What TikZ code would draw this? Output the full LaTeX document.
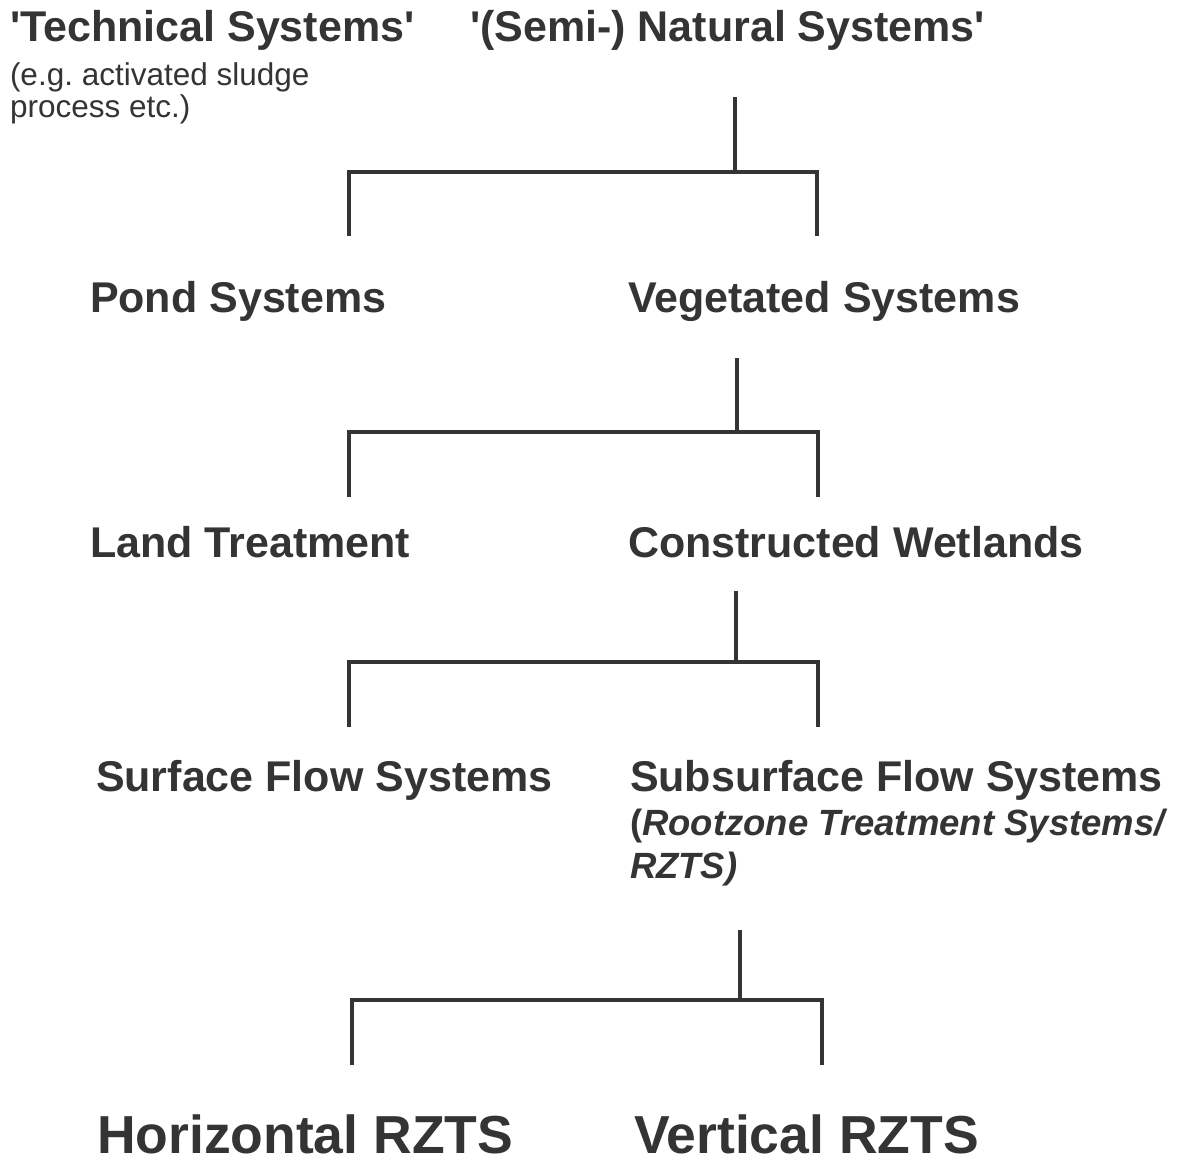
\documentclass[tikz,border=0pt]{standalone}
\usepackage{fontspec}
\setmainfont{Liberation Sans}[Ligatures=TeXOff]
\definecolor{ink}{RGB}{52,52,52}
\frenchspacing
\tikzset{
  lbl/.style={anchor=base west, inner sep=0pt, outer sep=0pt, text=ink, font=\bfseries\fontsize{43}{45}\selectfont},
  sub/.style={anchor=base west, inner sep=0pt, outer sep=0pt, text=ink, font=\fontsize{31.5}{33}\selectfont},
  ital/.style={anchor=base west, inner sep=0pt, outer sep=0pt, text=ink, font=\bfseries\fontsize{36.5}{38}\selectfont},
  big/.style={anchor=base west, inner sep=0pt, outer sep=0pt, text=ink, font=\bfseries\fontsize{53.5}{55}\selectfont},
  tree/.style={draw=ink, line width=4pt, line cap=butt, line join=miter}
}
\begin{document}
\begin{tikzpicture}[x=1pt,y=-1pt]
\useasboundingbox[fill=white] (0,0) rectangle (1193,1160);
% texts
\node[lbl] (tech) at (10,41) {'Technical Systems'};
\node[sub] (tech2) at (10,85) {(e.g. activated sludge};
\node[sub] (tech3) at (10,117) {process etc.)};
\node[lbl] (nat) at (470,41) {'(Semi-) Natural Systems'};
\node[lbl] (pond) at (90,312) {Pond Systems};
\node[lbl] (veg) at (628,312) {Vegetated Systems};
\node[lbl] (land) at (90,557) {Land Treatment};
\node[lbl] (cw) at (628,557) {Constructed Wetlands};
\node[lbl] (sfs) at (96,791) {Surface Flow Systems};
\node[lbl] (ssfs) at (630,791) {Subsurface Flow Systems};
\node[ital] (rzts1) at (630,835) {(\textit{Rootzone Treatment Systems/}};
\node[ital] (rzts2) at (630,878) {\textit{RZTS)}};
\node[big] (hor) at (97,1153) {Horizontal RZTS};
\node[big] (ver) at (634,1153) {Vertical RZTS};
% tree coordinates
\coordinate (t1) at (735,97);   \coordinate (j1) at (735,172);
\coordinate (l1) at (349,236);  \coordinate (r1) at (817,236);
\coordinate (t2) at (737,358);  \coordinate (j2) at (737,432);
\coordinate (l2) at (349,497);  \coordinate (r2) at (818,497);
\coordinate (t3) at (736,591);  \coordinate (j3) at (736,662);
\coordinate (l3) at (349,727);  \coordinate (r3) at (818,727);
\coordinate (t4) at (740,930);  \coordinate (j4) at (740,1000);
\coordinate (l4) at (352,1065); \coordinate (r4) at (822,1065);
\foreach \i in {1,2,3,4}{
  \draw[tree] (t\i) -- (j\i);
  \draw[tree] (l\i) -- (l\i |- j\i) -- (r\i |- j\i) -- (r\i);
}
\end{tikzpicture}
\end{document}
